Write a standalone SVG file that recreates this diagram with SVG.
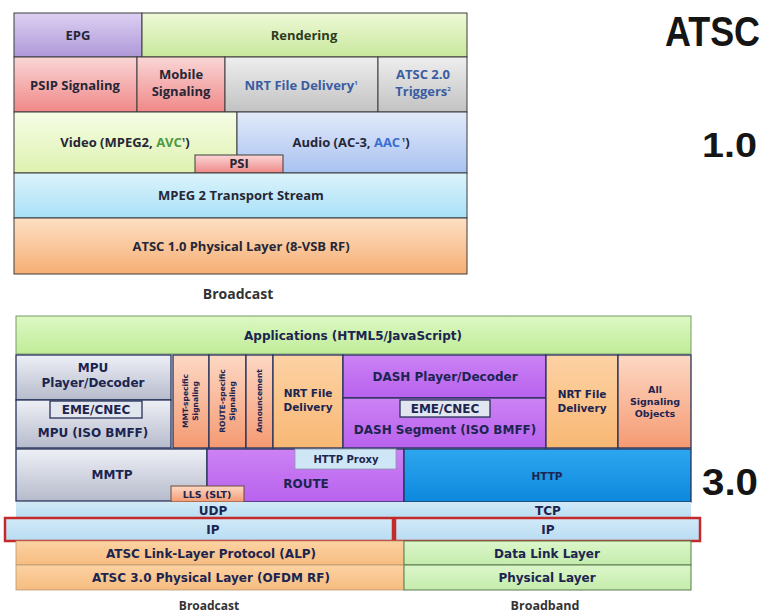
<svg xmlns="http://www.w3.org/2000/svg" width="776" height="614" viewBox="0 0 776 614">
<defs>
<linearGradient id="gPurple1" x1="0" y1="0" x2="0" y2="1"><stop offset="0" stop-color="#ddd0f2"/><stop offset="1" stop-color="#ae98d8"/></linearGradient>
<linearGradient id="gGreen1" x1="0" y1="0" x2="0" y2="1"><stop offset="0" stop-color="#eef9d8"/><stop offset="1" stop-color="#c8e89c"/></linearGradient>
<linearGradient id="gPink" x1="0" y1="0" x2="0" y2="1"><stop offset="0" stop-color="#fad6d6"/><stop offset="1" stop-color="#f08888"/></linearGradient>
<linearGradient id="gGray1" x1="0" y1="0" x2="0" y2="1"><stop offset="0" stop-color="#eeeeee"/><stop offset="1" stop-color="#c2c2c2"/></linearGradient>
<linearGradient id="gVideo" x1="0" y1="0" x2="0" y2="1"><stop offset="0" stop-color="#f6fde6"/><stop offset="1" stop-color="#def2b0"/></linearGradient>
<linearGradient id="gAudio" x1="0" y1="0" x2="0" y2="1"><stop offset="0" stop-color="#e2eafa"/><stop offset="1" stop-color="#a9c2f0"/></linearGradient>
<linearGradient id="gCyan" x1="0" y1="0" x2="0" y2="1"><stop offset="0" stop-color="#dcf4fc"/><stop offset="1" stop-color="#a8e0f6"/></linearGradient>
<linearGradient id="gOrange1" x1="0" y1="0" x2="0" y2="1"><stop offset="0" stop-color="#fde0c4"/><stop offset="1" stop-color="#f6ae74"/></linearGradient>
<linearGradient id="gApp" x1="0" y1="0" x2="0" y2="1"><stop offset="0" stop-color="#dcf8c4"/><stop offset="1" stop-color="#c0ec98"/></linearGradient>
<linearGradient id="gMpu" x1="0" y1="0" x2="0" y2="1"><stop offset="0" stop-color="#eef0f6"/><stop offset="1" stop-color="#b6bbcc"/></linearGradient>
<linearGradient id="gSalmon" x1="0" y1="0" x2="0" y2="1"><stop offset="0" stop-color="#fdd8c4"/><stop offset="1" stop-color="#f59a72"/></linearGradient>
<linearGradient id="gNrt" x1="0" y1="0" x2="0" y2="1"><stop offset="0" stop-color="#fdd2a4"/><stop offset="1" stop-color="#f8b874"/></linearGradient>
<linearGradient id="gDash" x1="0" y1="0" x2="0" y2="1"><stop offset="0" stop-color="#cc82f4"/><stop offset="1" stop-color="#b862ee"/></linearGradient>
<linearGradient id="gHttp" x1="0" y1="0" x2="0" y2="1"><stop offset="0" stop-color="#2ea6f0"/><stop offset="1" stop-color="#0c88dc"/></linearGradient>
<linearGradient id="gLb" x1="0" y1="0" x2="0" y2="1"><stop offset="0" stop-color="#d2eaf8"/><stop offset="1" stop-color="#b8dcf2"/></linearGradient>
<linearGradient id="gAlp" x1="0" y1="0" x2="0" y2="1"><stop offset="0" stop-color="#fcd2a2"/><stop offset="1" stop-color="#f6bc80"/></linearGradient>
<linearGradient id="gDl" x1="0" y1="0" x2="0" y2="1"><stop offset="0" stop-color="#dcf6ca"/><stop offset="1" stop-color="#c4ecac"/></linearGradient>
<style>
.t1{font-family:"Open Sans","Liberation Sans",sans-serif;font-weight:700;font-size:13px;fill:#262636;text-anchor:middle}
.t3{font-family:"DejaVu Sans","Liberation Sans",sans-serif;font-weight:700;font-size:12px;fill:#1c2450;text-anchor:middle}
.sm{font-size:10.5px}
.xs{font-size:9.5px}
.vt{font-size:7.5px}
.big{font-family:"Liberation Sans","Open Sans",sans-serif;font-weight:700;fill:#151515}
.lbl{font-family:"Open Sans","Liberation Sans",sans-serif;font-weight:700;fill:#333;text-anchor:middle}
.c1{stroke:#3c3c3c;stroke-width:1}
.c3{stroke:#27325a;stroke-width:1.3}
.thin{stroke:#8a9aae;stroke-width:0.8}
.blue{fill:#3b5ca0}
.grn{fill:#4f9a3c}
.ablue{fill:#3b6ed4}
.sup{font-size:6px}
.ipframe{fill:none;stroke:#c42a2a;stroke-width:2.5}
</style>
</defs>
<rect width="776" height="614" fill="#ffffff"/>

<!-- titles -->
<g id="title-atsc"><text class="big" x="665" y="46" style="font-size:42px" textLength="95" lengthAdjust="spacingAndGlyphs">ATSC</text></g>
<g id="title-10"><text class="big" x="702" y="157" style="font-size:35px" textLength="55" lengthAdjust="spacingAndGlyphs">1.0</text></g>
<g id="title-30"><text class="big" x="702" y="495" style="font-size:37px" textLength="56" lengthAdjust="spacingAndGlyphs">3.0</text></g>

<!-- ATSC 1.0 stack -->
<g id="epg"><rect class="c1" x="14" y="13" width="128" height="44" fill="url(#gPurple1)"/><text class="t1" x="78" y="40">EPG</text></g>
<g id="rendering"><rect class="c1" x="142" y="13" width="325" height="44" fill="url(#gGreen1)"/><text class="t1" x="304" y="40" style="fill:#2e3a1e">Rendering</text></g>
<g id="psip"><rect class="c1" x="14" y="57" width="123" height="55" fill="url(#gPink)"/><text class="t1" x="75" y="90">PSIP Signaling</text></g>
<g id="mobile"><rect class="c1" x="137" y="57" width="88" height="55" fill="url(#gPink)"/><text class="t1" x="181" y="79">Mobile</text><text class="t1" x="181" y="96">Signaling</text></g>
<g id="nrt1"><rect class="c1" x="225" y="57" width="153" height="55" fill="url(#gGray1)"/><text class="t1 blue" x="301" y="90">NRT File Delivery<tspan class="sup" dy="-5">1</tspan></text></g>
<g id="triggers"><rect class="c1" x="378" y="57" width="89" height="55" fill="url(#gGray1)"/><text class="t1 blue" x="423" y="79">ATSC 2.0</text><text class="t1 blue" x="423" y="96">Triggers<tspan class="sup" dy="-5">2</tspan></text></g>
<g id="video"><rect class="c1" x="14" y="112" width="223" height="61" fill="url(#gVideo)"/><text class="t1" x="125" y="147">Video (MPEG2, <tspan class="grn">AVC</tspan><tspan class="sup" dy="-5">1</tspan><tspan dy="5">)</tspan></text></g>
<g id="audio"><rect class="c1" x="237" y="112" width="230" height="61" fill="url(#gAudio)"/><text class="t1" x="351" y="147">Audio (AC-3, <tspan class="ablue">AAC</tspan><tspan class="sup" dy="-5"> 1</tspan><tspan dy="5">)</tspan></text></g>
<g id="psi"><rect class="c1" x="195" y="155" width="88" height="18" fill="url(#gPink)"/><text class="t1" x="239" y="168">PSI</text></g>
<g id="mpeg2ts"><rect class="c1" x="14" y="173" width="453" height="45" fill="url(#gCyan)"/><text class="t1" x="241" y="200">MPEG 2 Transport Stream</text></g>
<g id="phy1"><rect class="c1" x="14" y="218" width="453" height="56" fill="url(#gOrange1)"/><text class="t1" x="241" y="251">ATSC 1.0 Physical Layer (8-VSB RF)</text></g>
<g id="label-broadcast1"><text class="lbl" x="238" y="299" style="font-size:14px">Broadcast</text></g>

<!-- ATSC 3.0 stack -->
<g id="applications"><rect x="16" y="316" width="675" height="38" fill="url(#gApp)" stroke="#7a9a6a" stroke-width="1"/><text class="t3" x="353" y="340">Applications (HTML5/JavaScript)</text></g>
<g id="mpu-player"><rect class="c3" x="16" y="355" width="155" height="45" fill="url(#gMpu)"/><text class="t3" x="93" y="372">MPU</text><text class="t3" x="93" y="387">Player/Decoder</text></g>
<g id="mpu-isobmff"><rect class="c3" x="16" y="400" width="155" height="48" fill="url(#gMpu)"/><text class="t3" x="93" y="437">MPU (ISO BMFF)</text></g>
<g id="eme1"><rect class="c3" x="50" y="401" width="92" height="17" fill="#e2e6ee"/><text class="t3" x="96" y="414">EME/CNEC</text></g>
<g id="mmt-sig"><rect class="c3" x="173" y="355" width="36" height="93" fill="url(#gSalmon)"/><text class="t3 vt" transform="translate(188,401) rotate(-90)">MMT-specific</text><text class="t3 vt" transform="translate(198,401) rotate(-90)">Signaling</text></g>
<g id="route-sig"><rect class="c3" x="209" y="355" width="37" height="93" fill="url(#gSalmon)"/><text class="t3 vt" transform="translate(225,401) rotate(-90)">ROUTE-specific</text><text class="t3 vt" transform="translate(235,401) rotate(-90)">Signaling</text></g>
<g id="announcement"><rect class="c3" x="246" y="355" width="27" height="93" fill="url(#gSalmon)"/><text class="t3 vt" transform="translate(262,401) rotate(-90)">Announcement</text></g>
<g id="nrt3a"><rect class="c3" x="273" y="355" width="70" height="93" fill="url(#gNrt)"/><text class="t3 sm" x="308" y="397">NRT File</text><text class="t3 sm" x="308" y="411">Delivery</text></g>
<g id="dash-player"><rect class="c3" x="343" y="355" width="203" height="43" fill="url(#gDash)"/><text class="t3" x="445" y="381">DASH Player/Decoder</text></g>
<g id="dash-segment"><rect class="c3" x="343" y="398" width="203" height="50" fill="url(#gDash)"/><text class="t3" x="445" y="434">DASH Segment (ISO BMFF)</text></g>
<g id="eme2"><rect class="c3" x="400" y="400" width="90" height="17" fill="#e2e6ee"/><text class="t3" x="445" y="413">EME/CNEC</text></g>
<g id="nrt3b"><rect class="c3" x="546" y="355" width="72" height="93" fill="url(#gNrt)"/><text class="t3 sm" x="582" y="398">NRT File</text><text class="t3 sm" x="582" y="412">Delivery</text></g>
<g id="all-signaling"><rect class="c3" x="618" y="355" width="73" height="93" fill="url(#gSalmon)"/><text class="t3 xs" x="655" y="393">All</text><text class="t3 xs" x="655" y="405">Signaling</text><text class="t3 xs" x="655" y="417">Objects</text></g>
<g id="mmtp"><rect class="c3" x="16" y="449" width="191" height="52" fill="url(#gMpu)"/><text class="t3" x="112" y="479">MMTP</text></g>
<g id="route"><rect class="c3" x="207" y="449" width="197" height="53" fill="url(#gDash)"/><text class="t3" x="306" y="488">ROUTE</text></g>
<g id="http-proxy"><rect class="thin" x="295" y="449" width="101" height="20" fill="#cfe6f6"/><text class="t3" style="font-size:10px" x="346" y="463">HTTP Proxy</text></g>
<g id="http"><rect class="c3" x="404" y="449" width="287" height="53" fill="url(#gHttp)"/><text class="t3" style="font-size:10.5px" x="547" y="480">HTTP</text></g>
<g id="lls"><rect x="171" y="486" width="73" height="16" fill="url(#gSalmon)" stroke="#6a4a3a" stroke-width="1"/><text class="t3" style="font-size:9.5px" x="207" y="498">LLS (SLT)</text></g>
<g id="udp"><rect x="16" y="502" width="388" height="16" fill="url(#gLb)"/><text class="t3" x="213" y="515">UDP</text></g>
<g id="tcp"><rect x="404" y="502" width="287" height="16" fill="url(#gLb)"/><text class="t3" x="548" y="515">TCP</text></g>
<g id="ip-broadcast"><rect x="5" y="518" width="388" height="23" fill="url(#gLb)"/><rect class="ipframe" x="5" y="518" width="388" height="23"/><text class="t3" x="213" y="534">IP</text></g>
<g id="ip-broadband"><rect x="395" y="518" width="305" height="23" fill="url(#gLb)"/><rect class="ipframe" x="395" y="518" width="305" height="23"/><text class="t3" x="548" y="534">IP</text></g>
<g id="alp"><rect x="16" y="541" width="388" height="24" fill="url(#gAlp)" stroke="#b89870" stroke-width="0.8"/><text class="t3" x="211" y="558">ATSC Link-Layer Protocol (ALP)</text></g>
<g id="data-link"><rect x="404" y="541" width="287" height="24" fill="url(#gDl)" stroke="#5a7a4a" stroke-width="1"/><text class="t3" x="547" y="558">Data Link Layer</text></g>
<g id="phy3"><rect x="16" y="565" width="388" height="25" fill="url(#gAlp)" stroke="#b89870" stroke-width="0.8"/><text class="t3" x="211" y="582">ATSC 3.0 Physical Layer (OFDM RF)</text></g>
<g id="phy-broadband"><rect x="404" y="565" width="287" height="25" fill="url(#gDl)" stroke="#5a7a4a" stroke-width="1"/><text class="t3" x="547" y="582">Physical Layer</text></g>
<g id="label-broadcast3"><text class="lbl" x="209" y="610" style="font-size:12px">Broadcast</text></g>
<g id="label-broadband"><text class="lbl" x="545" y="610" style="font-size:12.5px">Broadband</text></g>
<g id="connectors"/>
</svg>
